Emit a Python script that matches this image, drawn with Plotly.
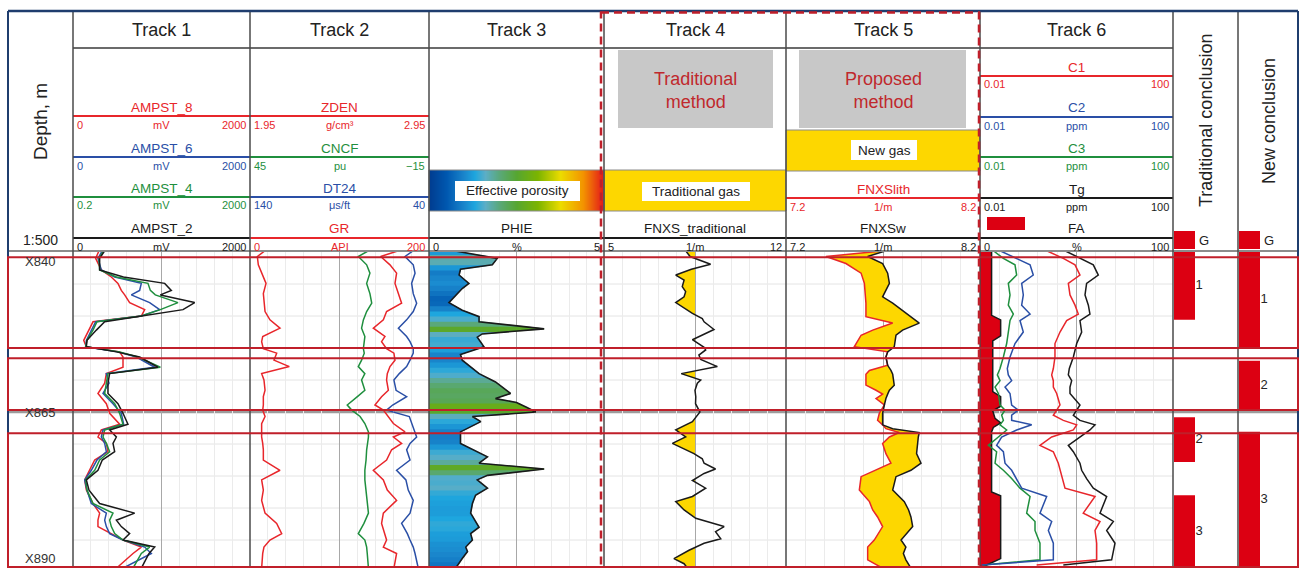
import numpy as np
import plotly.graph_objects as go
from plotly.colors import sample_colorscale

W, H = 1300, 568
FONT = "Liberation Sans, Arial, sans-serif"
RED = "#e8262b"
BLUE = "#2a4fa6"
GREEN = "#1f8f3e"
BLACK = "#1a1a1a"
ZONE_RED = "#c01f2a"
FILL_RED = "#dc0012"
GAS_YELLOW = "#fdd700"
GRID_MAJOR = "#a8a8a8"
GRID_MINOR = "#ebebeb"

# ---------------- depth scale and zones ----------------
DEPTH_TOP, DEPTH_BASE = 839.84, 889.37
GRID_DEPTHS = [845, 850, 855, 860, 870, 875, 880, 885]
MARKER_DEPTH = 865
DEPTH_LABEL_DEPTHS = [840, 865, 890]
DEPTH_LABELS = ["X840", "X865", "X890"]

ZONE_TOP = [840.8, 856.6, 868.3]
ZONE_BASE = [855.0, 864.7, 889.2]

# ---------------- Track 1: array sonic amplitudes (mV) ----------------
T1_DEPTH = [839.8, 841.0, 842.8, 843.9, 844.9, 846.0, 846.7, 847.9, 849.0, 850.0,
            850.9, 852.2, 853.8, 854.8, 855.6, 856.4, 858.0, 859.0, 860.5, 862.1,
            863.7, 865.2, 866.9, 867.8, 868.9, 869.9, 871.2, 872.5, 874.1, 875.6,
            877.2, 879.3, 880.8, 881.9, 882.9, 884.0, 885.0, 886.1, 887.1, 889.4]
AMPST_2 = [358, 301, 301, 570, 1036, 1111, 987, 1375, 1243, 791, 358, 264, 158, 151, 490, 753,
           960, 414, 395, 395, 508, 565, 621, 414, 490, 452, 471, 331, 282, 151, 181, 301,
           697, 490, 546, 640, 565, 923, 859, 772]
AMPST_4 = [346, 294, 301, 490, 847, 874, 930, 1186, 987, 772, 271, 226, 158, 143, 527, 734,
           987, 395, 377, 358, 471, 527, 565, 358, 339, 377, 414, 301, 245, 143, 158, 226,
           452, 414, 433, 471, 565, 866, 772, 678]
AMPST_6 = [331, 282, 320, 471, 772, 753, 659, 866, 979, 772, 256, 207, 151, 143, 508, 716,
           923, 377, 407, 339, 452, 546, 572, 339, 320, 358, 377, 271, 207, 132, 158, 207,
           377, 358, 377, 414, 565, 810, 885, 565]
AMPST_8 = [294, 256, 320, 433, 508, 546, 584, 640, 810, 772, 226, 181, 121, 151, 527, 565,
           565, 377, 358, 282, 377, 414, 527, 320, 282, 377, 395, 245, 188, 132, 151, 226,
           301, 282, 282, 433, 565, 772, 678, 490]

# ---------------- Track 2: conventional logs ----------------
T2_DEPTH = [839.8, 840.7, 842.0, 843.3, 844.9, 846.5, 848.0, 849.3, 850.6, 851.9,
            853.2, 854.0, 855.1, 855.8, 856.9, 857.9, 859.0, 860.0, 861.6, 862.6,
            863.9, 864.7, 865.7, 866.8, 868.1, 868.9, 869.9, 870.9, 872.5, 874.1,
            875.6, 877.2, 878.8, 880.8, 882.4, 884.0, 885.0, 886.1, 887.1, 889.4]
GR = [16.8, 8.2, 9.3, 13.0, 17.9, 14.9, 15.6, 16.8, 22.3, 33.5, 14.2, 13.0, 14.9, 29.8,
      26.8, 43.9, 13.0, 15.6, 16.8, 14.9, 14.9, 14.2, 16.8, 13.0, 13.0, 13.0, 14.2, 14.9,
      14.9, 33.5, 13.0, 14.9, 13.0, 16.8, 29.8, 35.4, 22.3, 15.6, 14.2, 13.0]
ZDEN = [2.779, 2.680, 2.732, 2.769, 2.760, 2.779, 2.797, 2.713, 2.695, 2.639, 2.704,
        2.685, 2.713, 2.754, 2.760, 2.732, 2.717, 2.713, 2.723, 2.685, 2.648, 2.695,
        2.723, 2.751, 2.816, 2.751, 2.797, 2.741, 2.713, 2.639, 2.695, 2.717, 2.769,
        2.695, 2.685, 2.704, 2.713, 2.695, 2.769, 2.754]
CNCF = [5.3, 8.7, 5.9, 4.8, 5.9, 4.8, 4.2, 5.9, 7.0, 7.6, 6.5, 6.8, 7.0, 6.7, 7.6, 8.7,
        6.5, 7.6, 6.5, 9.0, 12.4, 10.9, 8.1, 6.5, 5.3, 5.3, 5.7, 5.9, 6.1, 6.5, 6.5, 6.1,
        5.9, 5.3, 6.8, 8.7, 6.5, 5.9, 5.7, 5.3]
DT24 = [48.8, 53.4, 48.8, 47.8, 49.7, 48.8, 46.9, 48.8, 52.5, 57.1, 52.5, 50.6, 48.8,
        48.8, 50.6, 52.5, 56.6, 59.6, 58.4, 52.5, 60.3, 63.7, 51.0, 49.7, 47.8, 46.9,
        50.6, 52.5, 50.6, 58.1, 52.9, 51.6, 48.8, 50.6, 55.3, 52.1, 50.6, 48.8, 47.8, 46.0]

# ---------------- Track 3: effective porosity (%) ----------------
PHIE_DEPTH = [839.8, 841.0, 842.0, 842.7, 843.6, 844.9, 845.7, 847.9, 849.1, 850.1,
              850.9, 852.0, 852.8, 853.3, 854.8, 856.0, 856.9, 859.0, 860.3, 862.1,
              862.9, 863.5, 864.3, 865.0, 865.7, 866.5, 868.1, 869.9, 872.0, 873.0,
              873.9, 874.9, 875.6, 876.9, 878.0, 879.3, 880.8, 883.0, 884.0, 885.0,
              886.1, 886.8, 887.9, 889.4]
PHIE = [0.71, 1.95, 1.81, 0.90, 0.86, 1.14, 0.95, 0.57, 0.95, 1.43, 1.43, 3.29, 1.52,
        1.38, 1.57, 0.90, 0.95, 1.43, 1.90, 2.33, 1.90, 2.50, 2.80, 3.05, 1.24, 1.48,
        0.90, 0.90, 1.67, 1.43, 3.29, 1.67, 1.38, 1.67, 1.33, 1.24, 1.19, 1.43, 1.19,
        1.24, 1.05, 1.10, 0.95, 0.76]
PHIE_SCALE = [[0.0, "#003c8f"], [0.1, "#0058b0"], [0.2, "#1a86cc"], [0.26, "#1ea6de"],
              [0.32, "#5caec6"], [0.4, "#5aa87a"], [0.5, "#56a630"], [0.62, "#7cb400"],
              [0.75, "#ecdc00"], [0.88, "#f39200"], [1.0, "#e3131b"]]

# ---------------- Track 4: traditional FNXS (1/m) ----------------
T4_DEPTH = [839.8, 840.7, 841.9, 842.7, 843.6, 844.4, 845.4, 846.2, 847.0, 847.9,
            849.6, 850.4, 850.9, 852.1, 853.7, 854.9, 855.3, 856.1, 856.8, 857.9,
            859.0, 860.0, 860.5, 861.6, 862.6, 863.7, 865.0, 866.5, 867.8, 868.9,
            869.9, 871.5, 872.3, 873.0, 873.9, 874.6, 875.7, 876.9, 878.2, 879.0,
            880.3, 881.6, 882.9, 883.7, 884.8, 885.5, 886.6, 887.9, 888.7, 889.4]
FNXS_TRAD = [8.14, 8.31, 9.10, 8.36, 7.76, 8.08, 8.01, 8.14, 8.08, 7.76, 8.40, 8.78,
             8.85, 9.23, 8.40, 8.85, 8.91, 8.65, 8.72, 9.36, 7.97, 8.72, 8.59, 8.50,
             8.53, 8.52, 8.69, 8.40, 7.76, 8.14, 7.63, 8.46, 8.78, 8.85, 9.29, 8.85,
             8.40, 8.91, 8.40, 7.76, 8.08, 8.53, 9.62, 9.29, 9.49, 8.85, 8.27, 7.69,
             8.08, 8.21]
FNXS_CUTOFF = 8.5

# ---------------- Track 5: proposed FNXS (1/m) ----------------
T5_DEPTH = [839.8, 840.7, 841.8, 843.3, 844.9, 847.0, 848.0, 849.3, 850.1, 851.1,
            852.2, 853.0, 854.8, 855.6, 856.4, 857.7, 858.5, 859.1, 860.8, 861.6,
            862.2, 862.9, 863.9, 865.2, 866.3, 867.0, 867.6, 868.2, 868.9, 869.9,
            871.5, 873.0, 874.1, 875.1, 877.2, 879.0, 880.3, 881.4, 882.9, 885.0,
            886.1, 887.1, 888.1, 889.4]
FNXSW = [7.715, 7.621, 7.698, 7.724, 7.733, 7.698, 7.750, 7.810, 7.844, 7.887, 7.801,
         7.767, 7.758, 7.724, 7.715, 7.724, 7.741, 7.750, 7.758, 7.733, 7.724, 7.715,
         7.707, 7.698, 7.698, 7.698, 7.750, 7.887, 7.882, 7.879, 7.873, 7.896, 7.844,
         7.767, 7.750, 7.810, 7.832, 7.844, 7.853, 7.793, 7.818, 7.805, 7.818, 7.844]
FNXSLITH = [7.707, 7.406, 7.509, 7.587, 7.604, 7.612, 7.612, 7.612, 7.612, 7.750, 7.647,
            7.587, 7.552, 7.724, 7.715, 7.724, 7.630, 7.612, 7.612, 7.664, 7.698, 7.664,
            7.707, 7.681, 7.672, 7.698, 7.715, 7.784, 7.733, 7.698, 7.715, 7.741, 7.664,
            7.587, 7.578, 7.630, 7.647, 7.672, 7.698, 7.655, 7.621, 7.621, 7.621, 7.698]

# ---------------- Track 6: mud gas (ppm) and FA (%) ----------------
FA_DEPTH = [839.8, 849.9, 850.6, 853.1, 853.9, 861.8, 862.6, 864.1, 864.8, 866.0,
            866.7, 867.4, 868.1, 877.5, 878.1, 887.9, 888.9, 889.4]
FA = [6.0, 6.0, 10.7, 10.7, 6.6, 6.6, 10.7, 10.7, 6.6, 7.8, 10.7, 6.9, 6.0, 6.0, 10.7,
      10.7, 3.5, 0.5]
GAS_DEPTH = [839.8, 841.0, 842.0, 843.6, 844.9, 846.7, 848.3, 849.7, 850.7, 852.5,
             854.3, 856.4, 858.2, 859.2, 860.1, 861.1, 862.1, 863.9, 864.7, 865.5,
             866.3, 867.0, 867.8, 868.9, 870.2, 871.2, 873.0, 874.1, 875.4, 876.9,
             878.2, 880.8, 882.1, 883.5, 885.5, 888.1, 888.9]
C1 = [0.241, 0.533, 0.931, 1.18, 0.677, 0.733, 0.931, 1.09, 0.625, 0.455, 0.358, 0.358,
      0.331, 0.306, 0.331, 0.331, 0.388, 0.455, 0.388, 0.331, 0.533, 1.01, 0.86, 0.306,
      0.175, 0.331, 0.42, 0.455, 0.516, 0.578, 2.42, 1.38, 3.07, 2.42, 2.62, 2.62, 0.149]
C2 = [0.026, 0.0575, 0.109, 0.127, 0.073, 0.079, 0.073, 0.109, 0.0674, 0.079, 0.0531,
      0.0419, 0.0368, 0.0386, 0.0453, 0.033, 0.0419, 0.0453, 0.0622, 0.0453, 0.0453,
      0.118, 0.0575, 0.0281, 0.0221, 0.0305, 0.033, 0.0453, 0.0575, 0.073, 0.241, 0.175,
      0.306, 0.261, 0.331, 0.331, 0.0108]
C3 = [0.0189, 0.0305, 0.0531, 0.0575, 0.0386, 0.0419, 0.0386, 0.0491, 0.0419, 0.0386,
      0.0357, 0.0305, 0.026, 0.0229, 0.026, 0.0205, 0.024, 0.026, 0.033, 0.0281, 0.0305,
      0.026, 0.0357, 0.024, 0.0149, 0.0221, 0.0205, 0.0305, 0.0453, 0.0674, 0.109,
      0.0927, 0.138, 0.138, 0.175, 0.175, 0.0117]
TG = [0.578, 1.18, 2.23, 2.83, 1.62, 1.5, 1.76, 1.9, 1.18, 1.28, 1.01, 0.86, 0.71, 0.677,
      0.794, 0.733, 0.733, 1.18, 1.01, 0.86, 1.18, 2.42, 1.9, 1.18, 0.677, 0.86, 1.18,
      1.28, 1.62, 2.23, 4.22, 3.07, 5.8, 4.22, 6.28, 5.35, 0.533]

# ---------------- interpretation columns ----------------
TRAD_TOP = [839.84, 865.8, 878.0]
TRAD_BASE = [850.6, 872.8, 889.37]
TRAD_LABEL = ["1", "2", "3"]
NEW_TOP = [839.84, 857.0, 868.1]
NEW_BASE = [855.0, 864.8, 889.37]
NEW_LABEL = ["1", "2", "3"]

# ---------------- layout geometry (pixels) ----------------
COL = {"depth": (8, 73), 1: (73, 250), 2: (250, 429), 3: (429, 604), 4: (604, 786),
       5: (786, 980), 6: (980, 1173), "trad": (1173, 1238), "new": (1238, 1298)}
DATA_TOP_PX = 251


def fx(p):
    return p / W


def fy(p):
    return 1 - p / H


fig = go.Figure()


def add_curve(x, y, axis, color, width=1.5):
    fig.add_trace(go.Scatter(x=x, y=y, xaxis=axis, yaxis="y", mode="lines",
                             line=dict(color=color, width=width), hoverinfo="skip"))


def with_crossings(depth, a, b):
    d_out, a_out, b_out = [depth[0]], [a[0]], [b[0]]
    for i in range(1, len(depth)):
        da, db = a[i - 1] - b[i - 1], a[i] - b[i]
        if da * db < 0:
            t = da / (da - db)
            d_out.append(depth[i - 1] + t * (depth[i] - depth[i - 1]))
            xc = a[i - 1] + t * (a[i] - a[i - 1])
            a_out.append(xc)
            b_out.append(xc)
        d_out.append(depth[i])
        a_out.append(a[i])
        b_out.append(b[i])
    return np.array(d_out), np.array(a_out), np.array(b_out)


# Track 1
for vals, col in [(AMPST_8, RED), (AMPST_6, BLUE), (AMPST_4, GREEN), (AMPST_2, BLACK)]:
    add_curve(vals, T1_DEPTH, "x", col)

# Track 2
add_curve(GR, T2_DEPTH, "x2", RED)
add_curve(ZDEN, T2_DEPTH, "x3", RED)
add_curve(CNCF, T2_DEPTH, "x4", GREEN)
add_curve(DT24, T2_DEPTH, "x5", BLUE)

# Track 3: porosity coloured in depth bands (bands overlap slightly to avoid seams)
pd_arr, pv_arr = np.array(PHIE_DEPTH), np.array(PHIE)
edges = np.arange(pd_arr[0], pd_arr[-1], 0.8)
edges = np.append(edges, pd_arr[-1])
for d0, d1 in zip(edges[:-1], edges[1:]):
    e0, e1 = max(d0 - 0.12, pd_arr[0]), min(d1 + 0.12, pd_arr[-1])
    inside = (pd_arr > e0) & (pd_arr < e1)
    ds = np.concatenate([[e0], pd_arr[inside], [e1]])
    vs = np.interp(ds, pd_arr, pv_arr)
    col = sample_colorscale(PHIE_SCALE, [float(np.clip(vs.mean() / 5.0, 0, 1))])[0]
    fig.add_trace(go.Scatter(x=vs, y=ds, xaxis="x6", yaxis="y", mode="lines",
                             fill="tozerox", fillcolor=col,
                             line=dict(color=col, width=0.6), hoverinfo="skip"))
add_curve(PHIE, PHIE_DEPTH, "x6", BLACK, 1.6)

# Track 4: gas flag where FNXS drops below the cutoff
d4, c4, b4 = with_crossings(T4_DEPTH, FNXS_TRAD, [FNXS_CUTOFF] * len(T4_DEPTH))
fig.add_trace(go.Scatter(x=b4, y=d4, xaxis="x7", yaxis="y", mode="lines",
                         line=dict(width=0), hoverinfo="skip"))
fig.add_trace(go.Scatter(x=np.minimum(c4, b4), y=d4, xaxis="x7", yaxis="y", mode="lines",
                         fill="tonextx", fillcolor=GAS_YELLOW, line=dict(width=0),
                         hoverinfo="skip"))
add_curve(FNXS_TRAD, T4_DEPTH, "x7", BLACK, 1.5)

# Track 5: gas where FNXSw exceeds FNXSlith
d5, w5, l5 = with_crossings(T5_DEPTH, FNXSW, FNXSLITH)
fig.add_trace(go.Scatter(x=l5, y=d5, xaxis="x8", yaxis="y", mode="lines",
                         line=dict(width=0), hoverinfo="skip"))
fig.add_trace(go.Scatter(x=np.maximum(w5, l5), y=d5, xaxis="x8", yaxis="y", mode="lines",
                         fill="tonextx", fillcolor=GAS_YELLOW, line=dict(width=0),
                         hoverinfo="skip"))
add_curve(FNXSLITH, T5_DEPTH, "x8", RED, 1.5)
add_curve(FNXSW, T5_DEPTH, "x8", BLACK, 1.5)

# Track 6
fig.add_trace(go.Scatter(x=FA, y=FA_DEPTH, xaxis="x9", yaxis="y", mode="lines",
                         fill="tozerox", fillcolor=FILL_RED,
                         line=dict(color=BLACK, width=1.5), hoverinfo="skip"))
for vals, col in [(C3, GREEN), (C2, BLUE), (C1, RED), (TG, BLACK)]:
    add_curve(vals, GAS_DEPTH, "x10", col, 1.5)

# Interpretation columns
for tops, bases, labels, axis in [(TRAD_TOP, TRAD_BASE, TRAD_LABEL, "x11"),
                                  (NEW_TOP, NEW_BASE, NEW_LABEL, "x12")]:
    thick = [b - t for t, b in zip(tops, bases)]
    fig.add_trace(go.Bar(x=[11.5] * len(tops), y=thick, base=tops, width=21,
                         marker=dict(color=FILL_RED, line=dict(width=0)),
                         xaxis=axis, yaxis="y", hoverinfo="skip"))
    mids = [(t + b) / 2 for t, b in zip(tops, bases)]
    fig.add_trace(go.Scatter(x=[22.5] * len(tops), y=mids, text=labels, mode="text",
                             textposition="middle right",
                             textfont=dict(size=13, color="#262626", family=FONT),
                             xaxis=axis, yaxis="y", hoverinfo="skip"))

# Porosity colour bar in the Track 3 header
grad = np.linspace(0, 5, 176)
fig.add_trace(go.Heatmap(z=[grad], x=grad, y=[0], colorscale=PHIE_SCALE, zmin=0, zmax=5,
                         showscale=False, xaxis="x13", yaxis="y2", hoverinfo="skip"))


# ---------------- axes ----------------
def track_axis(key, rng, major, minor, tick0):
    return dict(domain=[fx(COL[key][0]), fx(COL[key][1])], range=rng, anchor="y",
                showticklabels=False, ticks="", showline=False, zeroline=False,
                showgrid=True, gridcolor=GRID_MAJOR, gridwidth=1.2, dtick=major, tick0=tick0,
                minor=dict(dtick=minor, tick0=tick0, showgrid=True, gridcolor=GRID_MINOR,
                           gridwidth=1))


def overlay_axis(base, rng, **kw):
    d = dict(overlaying=base, range=rng, anchor="y", visible=False)
    d.update(kw)
    return d


def hidden_axis(key, rng):
    return dict(domain=[fx(COL[key][0]), fx(COL[key][1])], range=rng, anchor="y",
                visible=False)


layout_axes = dict(
    xaxis=track_axis(1, [0, 2000], 1000, 200, 0),
    xaxis2=track_axis(2, [0, 200], 100, 20, 0),
    xaxis3=overlay_axis("x2", [1.95, 2.95]),
    xaxis4=overlay_axis("x2", [45, -15]),
    xaxis5=overlay_axis("x2", [140, 40]),
    xaxis6=track_axis(3, [0, 5], 2.5, 0.5, 0),
    xaxis7=track_axis(4, [5, 12], 3.5, 0.7, 5),
    xaxis8=track_axis(5, [7.2, 8.2], 0.5, 0.1, 7.2),
    xaxis9=track_axis(6, [0, 100], 50, 10, 0),
    xaxis10=overlay_axis("x9", [-2, 2], type="log"),
    xaxis11=hidden_axis("trad", [0, 65]),
    xaxis12=hidden_axis("new", [0, 60]),
    xaxis13=dict(domain=[fx(429), fx(604)], range=[0, 5], anchor="y2", visible=False),
    yaxis=dict(domain=[0, fy(DATA_TOP_PX)], range=[DEPTH_BASE, DEPTH_TOP], anchor="x",
               visible=False),
    yaxis2=dict(domain=[fy(211), fy(170)], range=[-0.5, 0.5], anchor="x13", visible=False),
)

# ---------------- shapes ----------------
shapes = []


def pline(x0, y0, x1, y1, color, width, dash=None, layer="above"):
    shapes.append(dict(type="line", xref="paper", yref="paper", x0=fx(x0), x1=fx(x1),
                       y0=fy(y0), y1=fy(y1), layer=layer,
                       line=dict(color=color, width=width, dash=dash)))


def prect(x0, y0, x1, y1, fill, line_color=None, width=0, layer="above"):
    shapes.append(dict(type="rect", xref="paper", yref="paper", x0=fx(x0), x1=fx(x1),
                       y0=fy(y0), y1=fy(y1), fillcolor=fill, layer=layer,
                       line=dict(color=line_color or fill, width=width)))


# light depth grid inside the log tracks
for d in GRID_DEPTHS:
    shapes.append(dict(type="line", xref="paper", yref="y", x0=fx(73), x1=fx(1173),
                       y0=d, y1=d, layer="below", line=dict(color="#e4e4e4", width=1)))
shapes.append(dict(type="line", xref="paper", yref="y", x0=fx(8), x1=fx(1298),
                   y0=MARKER_DEPTH, y1=MARKER_DEPTH, layer="below",
                   line=dict(color="#9c9c9c", width=2.5)))

# header boxes
prect(618, 50, 773, 128, "#c8c8c8")
prect(799, 50, 966, 128, "#c8c8c8")
prect(786, 130, 980, 171, GAS_YELLOW, "#8a8a8a", 1)
prect(604, 170, 786, 211, GAS_YELLOW, "#8a8a8a", 1)
prect(429, 170, 604, 211, "rgba(0,0,0,0)", "#8a8a8a", 1)
prect(455, 181, 580, 201, "white")
prect(642, 182, 750, 201, "white")
prect(851, 140, 917, 160, "white")
prect(987, 217, 1025, 230, FILL_RED)
prect(1174, 231, 1195, 249, FILL_RED)
prect(1239, 231, 1260, 249, FILL_RED)

# curve header lines
HEADERS = {
    1: [("AMPST_8", RED, 116, "0", "mV", "2000"), ("AMPST_6", BLUE, 157, "0", "mV", "2000"),
        ("AMPST_4", GREEN, 197, "0.2", "mV", "2000"), ("AMPST_2", BLACK, 238, "0", "mV", "2000")],
    2: [("ZDEN", RED, 116, "1.95", "g/cm³", "2.95"), ("CNCF", GREEN, 157, "45", "pu", "−15"),
        ("DT24", BLUE, 197, "140", "μs/ft", "40"), ("GR", RED, 238, "0", "API", "200")],
    3: [("PHIE", BLACK, 238, "0", "%", "5")],
    4: [("FNXS_traditional", BLACK, 238, "5", "1/m", "12")],
    5: [("FNXSlith", RED, 198, "7.2", "1/m", "8.2"), ("FNXSw", BLACK, 238, "7.2", "1/m", "8.2")],
    6: [("C1", RED, 76, "0.01", "", "100"), ("C2", BLUE, 117, "0.01", "ppm", "100"),
        ("C3", GREEN, 157, "0.01", "ppm", "100"), ("Tg", BLACK, 198, "0.01", "ppm", "100"),
        ("FA", BLACK, 238, "0", "%", "100")],
}
TRACK_TITLES = {1: "Track 1", 2: "Track 2", 3: "Track 3", 4: "Track 4", 5: "Track 5",
                6: "Track 6"}

annotations = []


def label(text, x, y, size, color="#222222", xanchor="center", angle=0, yanchor="middle"):
    annotations.append(dict(text=text, x=fx(x), y=fy(y), xref="paper", yref="paper",
                            showarrow=False, xanchor=xanchor, yanchor=yanchor,
                            textangle=angle, font=dict(size=size, color=color, family=FONT)))


for key, rows in HEADERS.items():
    x0, x1 = COL[key]
    for name, col, ly, lo, unit, hi in rows:
        pline(x0, ly, x1, ly, col, 2)
        label(name, (x0 + x1) / 2, ly - 9, 13.5, col)
        label(lo, x0 + 2, ly + 8.5, 11, col, xanchor="left")
        if unit:
            label(unit, (x0 + x1) / 2, ly + 8.5, 11, col)
        label(hi, x1 - 2, ly + 8.5, 11, col, xanchor="right")
    label(TRACK_TITLES[key], (x0 + x1) / 2, 30, 18)

label("Depth, m", 40, 122, 19, angle=-90)
label("1:500", 40, 240, 14)
label("Traditional<br>method", 695, 91, 18, "#c0282d")
label("Proposed<br>method", 883, 91, 18, "#c0282d")
label("Effective porosity", 517.5, 191, 13.5)
label("Traditional gas", 696, 191.5, 13.5)
label("New gas", 884, 150, 13.5)
label("Traditional conclusion", 1206, 121, 18, angle=-90)
label("New conclusion", 1269, 121, 18, angle=-90)
label("G", 1197, 240, 13, xanchor="left")
label("G", 1262, 240, 13, xanchor="left")

# depth labels
for d, t, anc in zip(DEPTH_LABEL_DEPTHS, DEPTH_LABELS, ["top", "middle", "bottom"]):
    annotations.append(dict(text=t, x=fx(40), xref="paper", y=min(max(d, DEPTH_TOP), DEPTH_BASE),
                            yref="y", showarrow=False, xanchor="center", yanchor=anc,
                            font=dict(size=13, color="#333333", family=FONT)))

# frame lines
pline(73, 48, 1173, 48, "#3a3a3a", 1.5)
pline(8, DATA_TOP_PX, 1298, DATA_TOP_PX, "#8c8c8c", 2)
for xb in [73, 250, 429, 604, 786, 980, 1173, 1238]:
    pline(xb, 11, xb, 568, "#4a4a4a", 1.5)
pline(8, 11, 1298, 11, "#1f3d6e", 2.5)
pline(8, 11, 8, 568, "#1f3d6e", 2)
pline(1298, 11, 1298, 568, "#1f3d6e", 2)

# zone boxes
for t, b in zip(ZONE_TOP, ZONE_BASE):
    shapes.append(dict(type="rect", xref="paper", yref="y", x0=fx(8), x1=fx(1298),
                       y0=t, y1=b, layer="above", fillcolor="rgba(0,0,0,0)",
                       line=dict(color=ZONE_RED, width=2)))

# method comparison frame
shapes.append(dict(type="rect", xref="paper", yref="paper", x0=fx(601), x1=fx(979),
                   y0=fy(12.5), y1=fy(580), layer="above", fillcolor="rgba(0,0,0,0)",
                   line=dict(color=ZONE_RED, width=2.5, dash="8px,5px")))

fig.update_layout(
    width=W, height=H, margin=dict(l=0, r=0, t=0, b=0),
    paper_bgcolor="white", plot_bgcolor="rgba(0,0,0,0)",
    showlegend=False, hovermode=False, barmode="overlay",
    shapes=shapes, annotations=annotations,
    font=dict(family=FONT),
    **layout_axes,
)

fig.write_html("out.html")
